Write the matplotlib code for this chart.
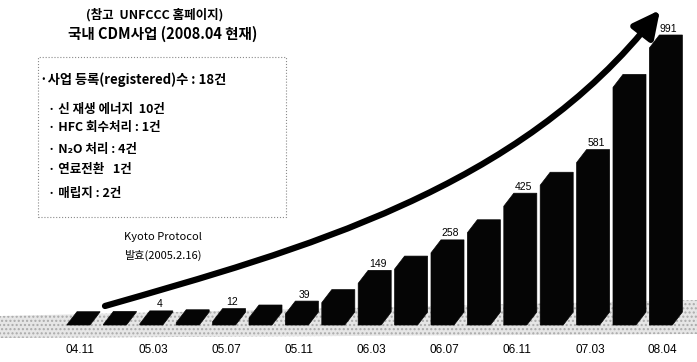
import matplotlib
matplotlib.use("Agg")
import matplotlib.pyplot as plt
from matplotlib.patches import Polygon, Rectangle, FancyArrowPatch
from matplotlib.path import Path

plt.rcParams['font.family'] = ['Noto Sans CJK KR', 'DejaVu Sans']
plt.rcParams['hatch.linewidth'] = 1.0

# cumulative registered CDM projects (world), every bar one period
periods = ['04.11', '05.01', '05.03', '05.05', '05.07', '05.09', '05.11', '06.01', '06.03',
           '06.05', '06.07', '06.09', '06.11', '07.01', '07.03', '07.10', '08.04']
values = [1, 2, 4, 8, 12, 25, 39, 80, 149, 200, 258, 330, 425, 500, 581, 850, 991]
labelled = ['05.03', '05.07', '05.11', '06.03', '06.07', '06.11', '07.03', '08.04']
tick_labels = ['04.11', '05.03', '05.07', '05.11', '06.03', '06.07', '06.11', '07.03', '08.04']

title_src = '(참고  UNFCCC 홈페이지)'
title = '국내 CDM사업 (2008.04 현재)'
box_head = '·사업 등록(registered)수 : 18건'
box_items = ['· 신 재생 에너지  10건', '· HFC 회수처리 : 1건', '· N₂O 처리 : 4건',
             '· 연료전환   1건', '· 매립지 : 2건']
kyoto = ['Kyoto Protocol', '발효(2005.2.16)']

W, H = 697, 362
def fx(px):
    return px / W
def fy(py):
    return 1 - py / H

fig = plt.figure(figsize=(W / 100, H / 100), dpi=100)
ax = fig.add_axes([0, 22 / H, 1, 1 - 22 / H])
ax.patch.set_visible(False)
for s in ax.spines.values():
    s.set_visible(False)

step = 36.4           # px between bars
scale = 277 / 991     # px per project
ax.set_xlim(-78.5 / step, (W - 78.5) / step)
ax.set_ylim(-15 / scale, 325 / scale)

w = 23 / step      # front face width
dx = 10 / step     # depth offset
dy = 13 / scale

# halftone floor
floor = Polygon([(fx(0), fy(316)), (fx(W), fy(300)), (fx(W), fy(334)), (fx(0), fy(338))],
                closed=True, transform=fig.transFigure, facecolor='#e6e6e6',
                edgecolor='#aaaaaa', hatch='....', lw=0, zorder=0, clip_on=False)
ax.add_patch(floor)

for i, (p, v) in enumerate(zip(periods, values)):
    x0, x1 = i - w / 2, i + w / 2
    pts = [(x0, 0), (x0, v), (x0 + dx, v + dy), (x1 + dx, v + dy), (x1 + dx, dy), (x1, 0)]
    ax.add_patch(Polygon(pts, closed=True, facecolor='#050505', edgecolor='#050505',
                         lw=0.5, zorder=2))
    if p in labelled:
        ax.annotate(str(v), (i + dx / 2 + 0.08, v + dy), xytext=(0, 1),
                    textcoords='offset points', ha='center', va='bottom',
                    fontsize=7.5, family='Liberation Sans', zorder=3)

ax.set_yticks([])
ax.set_xticks([periods.index(t) + 0.05 for t in tick_labels])
ax.set_xticklabels(tick_labels, fontsize=8.5, family='Liberation Sans')
ax.tick_params(axis='x', length=0, pad=3)

# growth arrow
verts = [(fx(105), fy(306)), (fx(300), fy(250)), (fx(520), fy(190)), (fx(660), fy(10))]
arrow = FancyArrowPatch(path=Path(verts, [Path.MOVETO, Path.CURVE4, Path.CURVE4, Path.CURVE4]),
                        arrowstyle='-|>', mutation_scale=40, lw=4.5, color='black',
                        shrinkA=0, shrinkB=0, transform=fig.transFigure, zorder=5)
fig.add_artist(arrow)

# text block top left
fig.text(fx(155), fy(15), title_src, ha='center', va='center', fontsize=9, weight='bold')
fig.text(fx(163), fy(34), title, ha='center', va='center', fontsize=10.5, weight='bold')
fig.add_artist(Rectangle((fx(38), fy(217)), fx(286) - fx(38), fy(57) - fy(217),
                         transform=fig.transFigure, fill=False, ls=':', lw=0.8,
                         edgecolor='#8a8a8a'))
fig.text(fx(40), fy(80), box_head, ha='left', va='center', fontsize=9.5, weight='bold')
for txt, yy in zip(box_items, [109, 128, 149, 169, 193]):
    fig.text(fx(48), fy(yy), txt, ha='left', va='center', fontsize=9, weight='bold')
fig.text(fx(163), fy(237), kyoto[0], ha='center', va='center', fontsize=8)
fig.text(fx(163), fy(255), kyoto[1], ha='center', va='center', fontsize=8)

fig.savefig('out.png', dpi=100, facecolor='white')
